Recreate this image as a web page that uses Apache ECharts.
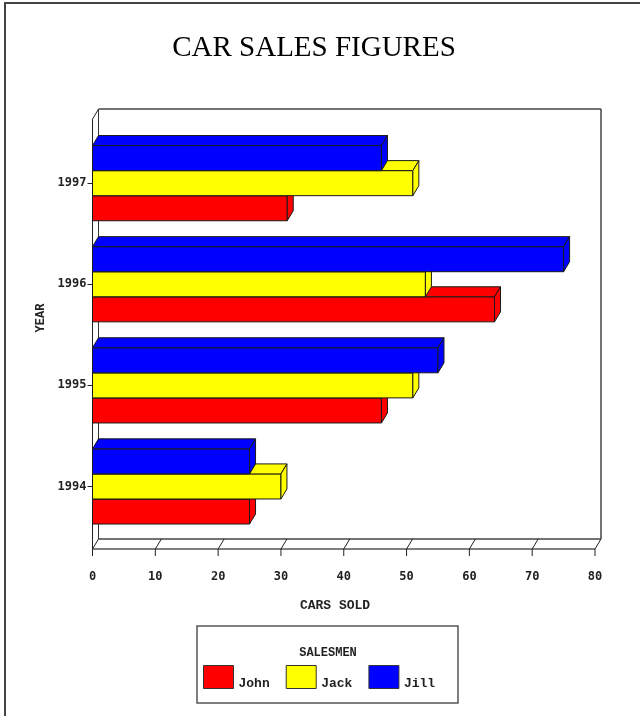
<!DOCTYPE html>
<html>
<head>
<meta charset="utf-8">
<script src="https://cdn.jsdelivr.net/npm/echarts@6/dist/echarts.min.js"></script>
<style>
html,body{margin:0;padding:0;background:#fff;}
#chart{width:640px;height:716px;}
</style>
</head>
<body>
<div id="chart"></div>
<script>
// ---- data ----
const years = ['1994', '1995', '1996', '1997'];
const salesmen = ['John', 'Jack', 'Jill'];
const john = [25, 46, 64, 31];
const jack = [30, 51, 53, 51];
const jill = [25, 55, 75, 46];
const xMin = 0, xMax = 80, xStep = 10;

// ---- style ----
const colors = {John: '#ff0000', Jack: '#ffff00', Jill: '#0000ff'};
const DX = 6, DY = 10;
const EDGE = '#1a1a1a';

function barRenderer(slot, color) {
  return function (params, api) {
    const cat = api.value(1), v = api.value(0);
    const c0 = api.coord([0, cat]);
    const c1 = api.coord([v, cat]);
    const band = api.size([0, 1])[1];
    const h = band * 0.248;
    const yTop = c0[1] - 1.5 * h + slot * h;
    const x0 = c0[0], x1 = c1[0];
    const st = {fill: color, stroke: EDGE, lineWidth: 1};
    return {
      type: 'group',
      children: [
        {type: 'rect', shape: {x: x0, y: yTop, width: x1 - x0, height: h}, style: st},
        {type: 'polygon', shape: {points: [[x0, yTop], [x0 + DX, yTop - DY], [x1 + DX, yTop - DY], [x1, yTop]]}, style: st},
        {type: 'polygon', shape: {points: [[x1, yTop], [x1 + DX, yTop - DY], [x1 + DX, yTop - DY + h], [x1, yTop + h]]}, style: st}
      ]
    };
  };
}

function frameRenderer(params, api) {
  const cs = params.coordSys;
  const xs = [];
  for (let t = xMin; t <= xMax; t += xStep) xs.push(api.coord([t, 0])[0]);
  const xl = xs[0], xr = xs[xs.length - 1];
  const backBottom = cs.y + cs.height + 2;
  const frontBottom = backBottom + DY;
  const backTop = cs.y - 23.5;
  const frontTop = backTop + DY;
  const ln = (x1, y1, x2, y2, c, w) => ({type: 'line', shape: {x1, y1, x2, y2}, style: {stroke: c || '#333', lineWidth: w || 1}});
  const ch = [
    // back wall
    ln(xl + DX, backTop, xr + DX, backTop, '#444', 1.5),
    ln(xr + DX, backTop, xr + DX, backBottom, '#444', 1.5),
    ln(xl + DX, backTop, xl + DX, backBottom, '#333', 1),
    ln(xl + DX, backBottom, xr + DX, backBottom, '#444', 1.5),
    // front left
    ln(xl, frontTop, xl, frontBottom, '#222', 1),
    ln(xl, frontTop, xl + DX, backTop, '#222', 1),
    // front bottom
    ln(xl, frontBottom, xr, frontBottom, '#555', 1.5)
  ];
  xs.forEach(x => {
    ch.push(ln(x, frontBottom, x + DX, backBottom, '#222', 1));
    ch.push(ln(x, frontBottom, x, frontBottom + 7, '#222', 1));
  });
  return {type: 'group', children: ch};
}

const chart = echarts.init(document.getElementById('chart'));
const monoTick = {fontFamily: 'DejaVu Sans Mono', fontWeight: 'bold', fontSize: 12, color: '#222'};

chart.setOption({
  backgroundColor: '#fff',
  animation: false,
  title: {
    show: false
  },
  grid: {left: 92.5, right: 45, top: 132.6, bottom: 179, containLabel: false},
  xAxis: {
    type: 'value', min: xMin, max: xMax, interval: xStep,
    offset: 12,
    axisLine: {show: false},
    axisTick: {show: false},
    splitLine: {show: false},
    axisLabel: Object.assign({margin: 22}, monoTick)
  },
  yAxis: {
    type: 'category', data: years,
    axisLine: {show: false},
    axisTick: {show: true, alignWithLabel: true, length: 5, lineStyle: {color: '#222'}},
    axisLabel: Object.assign({margin: 6}, monoTick)
  },
  legend: {
    data: salesmen,
    left: 198, top: 660,
    itemWidth: 30, itemHeight: 23, itemGap: 16,
    icon: 'rect',
    itemStyle: {borderColor: '#333', borderWidth: 1},
    formatter: '{a|{name}}',
    textStyle: {
      fontFamily: 'Liberation Mono', fontWeight: 'bold', fontSize: 13, color: '#222',
      rich: {a: {fontFamily: 'Liberation Mono', fontWeight: 'bold', fontSize: 13, color: '#222', padding: [14, 0, 0, 0]}}
    },
    selectedMode: false
  },
  graphic: [
    {type: 'rect', shape: {x: 5, y: 3, width: 700, height: 800}, style: {fill: 'none', stroke: '#444', lineWidth: 2}, z: 100},
    {type: 'rect', shape: {x: 197, y: 626, width: 261, height: 77}, style: {fill: 'none', stroke: '#555', lineWidth: 1.5}, z: 100},
    {type: 'text', x: 314, y: 48, style: {text: 'CAR SALES FIGURES', fontFamily: 'Liberation Serif', fontSize: 29, fill: '#000', textAlign: 'center', textVerticalAlign: 'middle'}},
    {type: 'text', x: 328, y: 653, style: {text: 'SALESMEN', fontFamily: 'Liberation Mono', fontWeight: 'bold', fontSize: 12, fill: '#222', textAlign: 'center', textVerticalAlign: 'middle'}},
    {type: 'text', x: 335, y: 606, style: {text: 'CARS SOLD', fontFamily: 'Liberation Mono', fontWeight: 'bold', fontSize: 13, fill: '#222', textAlign: 'center', textVerticalAlign: 'middle'}},
    {type: 'text', x: 41, y: 318, rotation: Math.PI / 2, style: {text: 'YEAR', fontFamily: 'Liberation Mono', fontWeight: 'bold', fontSize: 12, fill: '#222', textAlign: 'center', textVerticalAlign: 'middle'}}
  ],
  series: [
    {type: 'custom', name: 'frame', renderItem: frameRenderer, data: [[0, 0]], encode: {x: 0, y: 1}, silent: true, z: 1},
    {type: 'custom', name: 'John', itemStyle: {color: colors.John}, renderItem: barRenderer(2, colors.John), data: john.map((v, i) => [v, i]), encode: {x: 0, y: 1}, z: 2},
    {type: 'custom', name: 'Jack', itemStyle: {color: colors.Jack}, renderItem: barRenderer(1, colors.Jack), data: jack.map((v, i) => [v, i]), encode: {x: 0, y: 1}, z: 2},
    {type: 'custom', name: 'Jill', itemStyle: {color: colors.Jill}, renderItem: barRenderer(0, colors.Jill), data: jill.map((v, i) => [v, i]), encode: {x: 0, y: 1}, z: 2}
  ]
});
</script>
</body>
</html>
